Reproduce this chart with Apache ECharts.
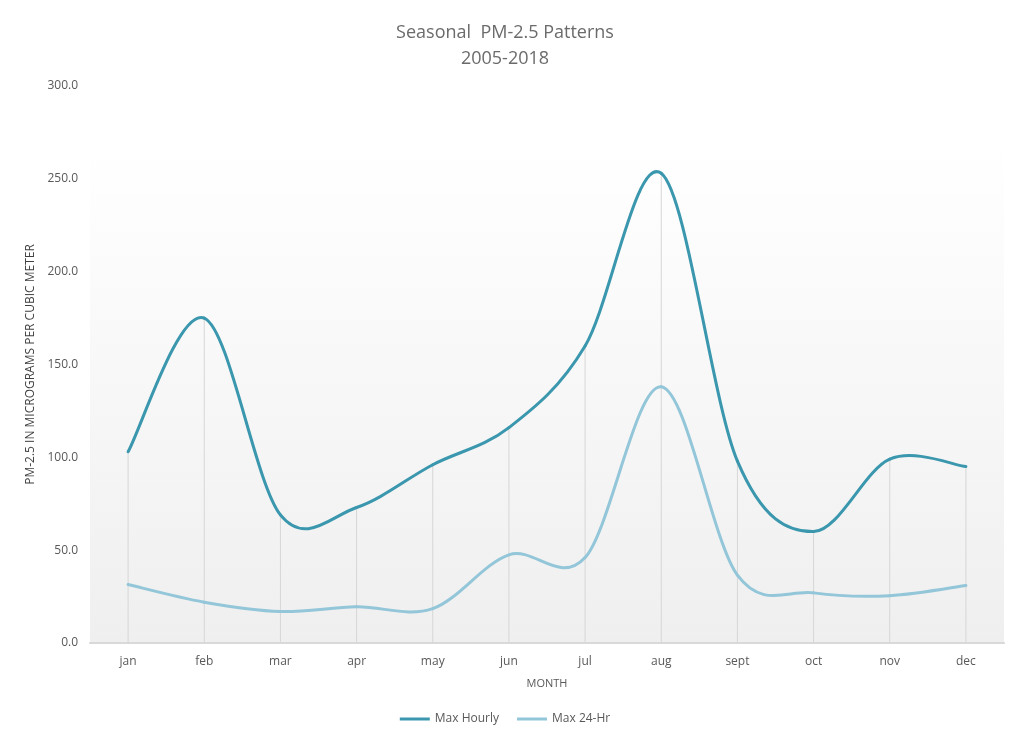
<!DOCTYPE html>
<html><head><meta charset="utf-8">
<script src="https://cdn.jsdelivr.net/npm/echarts@6/dist/echarts.min.js"></script>
<style>html,body{margin:0;padding:0;background:#fff}#c{width:1010px;height:738px}</style>
</head><body><div id="c"></div>
<script>
const months = ['jan','feb','mar','apr','may','jun','jul','aug','sept','oct','nov','dec'];
const maxHourly = [103, 175, 69, 73, 96, 116, 160, 253, 98, 60, 99, 95];
const max24Hr = [31.5, 22, 17, 19.5, 18.5, 47.5, 46, 138, 36.5, 27, 25.5, 31];
const yTicks = {min: 0, max: 300, interval: 50};

const chart = echarts.init(document.getElementById('c'), null, {renderer: 'canvas'});
const font = '"Open Sans", "Liberation Sans", sans-serif';

// Excel-like Catmull-Rom smoothing drawn through the axis coordinate system
function splineSeries(name, values, color, z) {
  return {
    name: name, type: 'custom', z: z,
    data: values.map((v, i) => [i, v]),
    encode: {x: 0, y: 1},
    itemStyle: {color: color},
    renderItem: function (params, api) {
      const i = params.dataIndex;
      const n = values.length;
      if (i >= n - 1) return null;
      const P = k => api.coord([Math.max(0, Math.min(n - 1, k)), values[Math.max(0, Math.min(n - 1, k))]]);
      const p0 = P(i - 1), p1 = P(i), p2 = P(i + 1), p3 = P(i + 2);
      return {
        type: 'bezierCurve',
        shape: {
          x1: p1[0], y1: p1[1], x2: p2[0], y2: p2[1],
          cpx1: p1[0] + (p2[0] - p0[0]) / 6, cpy1: p1[1] + (p2[1] - p0[1]) / 6,
          cpx2: p2[0] - (p3[0] - p1[0]) / 6, cpy2: p2[1] - (p3[1] - p1[1]) / 6
        },
        style: {stroke: color, lineWidth: 3, fill: null, lineCap: 'round'}
      };
    }
  };
}

chart.setOption({
  animation: false,
  backgroundColor: '#ffffff',
  title: {
    text: 'Seasonal  PM-2.5 Patterns\n2005-2018',
    left: 'center', top: 15,
    textStyle: {fontFamily: font, fontSize: 18, fontWeight: 'normal', color: '#6b6b6b', lineHeight: 26}
  },
  legend: {
    data: ['Max Hourly', 'Max 24-Hr'],
    bottom: 8, left: 'center', itemWidth: 30, itemHeight: 3, itemGap: 18,
    icon: 'rect',
    textStyle: {fontFamily: font, fontSize: 12, color: '#595959'}
  },
  grid: {
    left: 90, right: 6, top: 86, bottom: 95,
    outerBoundsMode: 'none', containLabel: false,
    show: true, borderWidth: 0,
    backgroundColor: new echarts.graphic.LinearGradient(0, 0, 0, 1, [
      {offset: 0, color: '#ffffff'}, {offset: 0.11, color: '#ffffff'}, {offset: 1, color: '#efefef'}
    ])
  },
  xAxis: {
    type: 'category', data: months, boundaryGap: true,
    name: 'MONTH', nameLocation: 'middle', nameGap: 35,
    nameTextStyle: {fontFamily: font, fontSize: 11, color: '#595959'},
    axisLine: {lineStyle: {color: '#d9d9d9', width: 2}},
    axisTick: {show: false},
    axisLabel: {fontFamily: font, fontSize: 12, color: '#595959', margin: 13}
  },
  yAxis: {
    type: 'value', min: yTicks.min, max: yTicks.max, interval: yTicks.interval,
    name: 'PM-2.5 IN MICROGRAMS PER CUBIC METER', nameLocation: 'middle', nameGap: 51,
    nameTextStyle: {fontFamily: font, fontSize: 12, color: '#404040'},
    axisLine: {show: false}, axisTick: {show: false},
    splitLine: {show: false},
    axisLabel: {fontFamily: font, fontSize: 12, color: '#595959', margin: 12, formatter: v => v.toFixed(1)}
  },
  series: [
    {
      name: 'drop', type: 'bar', data: maxHourly, barWidth: 1, silent: true,
      itemStyle: {color: '#d6d6d6'}, z: 1
    },
    splineSeries('Max Hourly', maxHourly, '#3a97ae', 3),
    splineSeries('Max 24-Hr', max24Hr, '#92c6d8', 2)
  ]
});
</script></body></html>
